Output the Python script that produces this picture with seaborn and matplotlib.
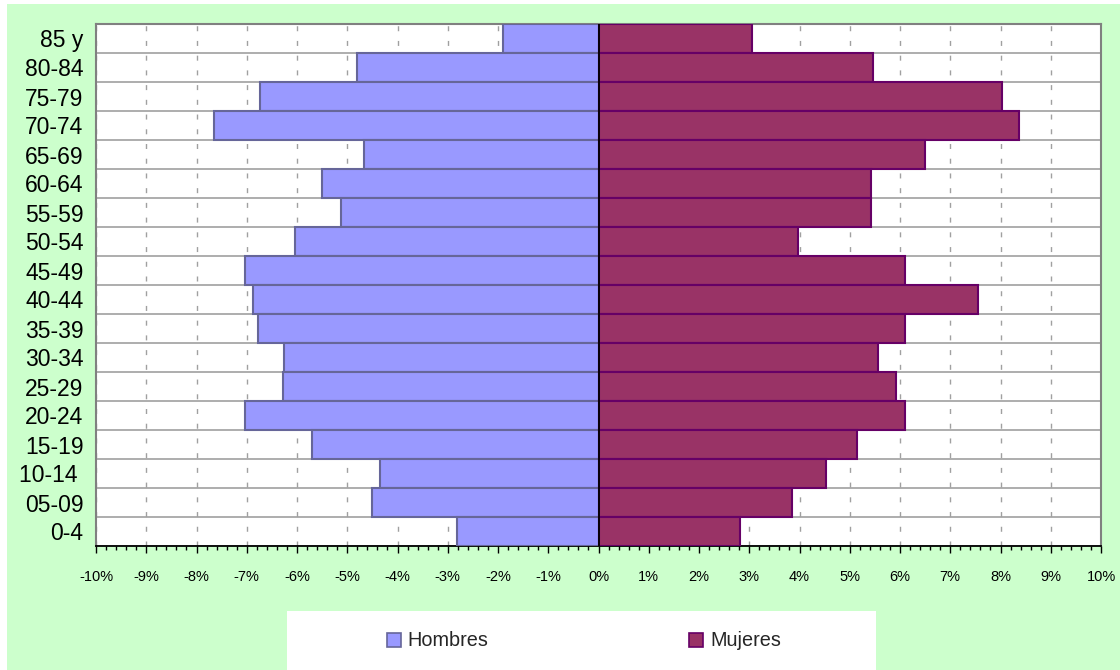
import numpy as np
import pandas as pd
import matplotlib
matplotlib.use("Agg")
import matplotlib.pyplot as plt
from matplotlib.patches import Patch, Rectangle
from matplotlib.ticker import FuncFormatter, MultipleLocator
import seaborn as sns

# ---- data (percent of population) ----
grupos = ["85 y", "80-84", "75-79", "70-74", "65-69", "60-64", "55-59", "50-54",
          "45-49", "40-44", "35-39", "30-34", "25-29", "20-24", "15-19", "10-14 ",
          "05-09", "0-4"]
hombres = [1.90, 4.80, 6.73, 7.65, 4.67, 5.50, 5.12, 6.04,
           7.03, 6.88, 6.78, 6.25, 6.27, 7.03, 5.70, 4.35,
           4.51, 2.82]
mujeres = [3.05, 5.46, 8.02, 8.36, 6.49, 5.42, 5.42, 3.98,
           6.10, 7.55, 6.10, 5.57, 5.93, 6.10, 5.15, 4.53,
           3.86, 2.82]
xticks = list(range(-10, 11))
series_names = ["Hombres", "Mujeres"]

col_h, edge_h = "#9999FF", "#666699"
col_m, edge_m = "#993366", "#660066"

sns.set_theme(style="white")
plt.rcParams["font.family"] = ["Liberation Sans", "DejaVu Sans"]

df_h = pd.DataFrame({"grupo": grupos, "valor": [-v for v in hombres]})
df_m = pd.DataFrame({"grupo": grupos, "valor": mujeres})

fig = plt.figure(figsize=(11.2, 6.7), dpi=100)
fig.patch.set_facecolor("white")
# green chart area background
fig.patches.append(Rectangle((7 / 1120, 0), 1 - 7 / 1120, 1 - 4 / 670,
                             transform=fig.transFigure, facecolor="#CCFFCC",
                             edgecolor="none", zorder=-10))
ax = fig.add_axes([96 / 1120, 1 - 546 / 670, (1101 - 96) / 1120, (546 - 24) / 670])
ax.set_facecolor("white")

sns.barplot(data=df_h, x="valor", y="grupo", order=grupos, orient="h",
            color=col_h, edgecolor=edge_h, linewidth=1.5, width=1.0,
            saturation=1, ax=ax, zorder=3)
sns.barplot(data=df_m, x="valor", y="grupo", order=grupos, orient="h",
            color=col_m, edgecolor=edge_m, linewidth=1.5, width=1.0,
            saturation=1, ax=ax, zorder=3)

ax.set_xlim(-10, 10)
ax.set_ylim(len(grupos) - 0.5, -0.5)
ax.set_xticks(xticks)
ax.xaxis.set_minor_locator(MultipleLocator(0.2))
ax.xaxis.set_major_formatter(FuncFormatter(lambda v, p: f"{int(round(v))}%"))
ax.set_yticks(np.arange(-0.5, len(grupos), 1), minor=True)

ax.grid(which="major", axis="x", color="#A0A0A0", linewidth=1.0,
        linestyle=(0, (3.6, 7)), zorder=0)
ax.grid(which="minor", axis="y", color="#A0A0A0", linewidth=1.2, zorder=1)
ax.grid(which="major", axis="y", visible=False)
ax.set_axisbelow(True)

ax.axvline(0, color="black", linewidth=1.3, zorder=5)

ax.tick_params(axis="x", which="major", bottom=True, length=5, width=1,
               color="black", labelsize=10.5, pad=12, labelcolor="black")
ax.tick_params(axis="x", which="minor", bottom=True, length=3, width=1,
               color="black")
ax.tick_params(axis="y", which="both", left=False, length=0, labelsize=16.5,
               pad=9, labelcolor="black")
ax.set_xlabel("")
ax.set_ylabel("")

for s in ["left", "top", "right"]:
    ax.spines[s].set_color("#808080")
    ax.spines[s].set_linewidth(1.5)
    ax.spines[s].set_visible(True)
ax.spines["bottom"].set_color("black")
ax.spines["bottom"].set_linewidth(1.3)
ax.spines["bottom"].set_visible(True)

# legend box
fig.patches.append(Rectangle((287 / 1120, 0), (876 - 287) / 1120, (670 - 611) / 670,
                             transform=fig.transFigure, facecolor="white",
                             edgecolor="none", zorder=-5))
handles = [Patch(facecolor=col_h, edgecolor=edge_h, linewidth=1.2),
           Patch(facecolor=col_m, edgecolor=edge_m, linewidth=1.2)]
fig.legend(handles, series_names, loc="center left",
           bbox_to_anchor=(387 / 1120, 1 - 641 / 670), ncol=2, frameon=False,
           fontsize=14.3, handlelength=0.7, handleheight=0.7, handletextpad=0.35,
           columnspacing=10.1, borderpad=0, borderaxespad=0)

fig.savefig("out.png", dpi=100, facecolor=fig.get_facecolor())
